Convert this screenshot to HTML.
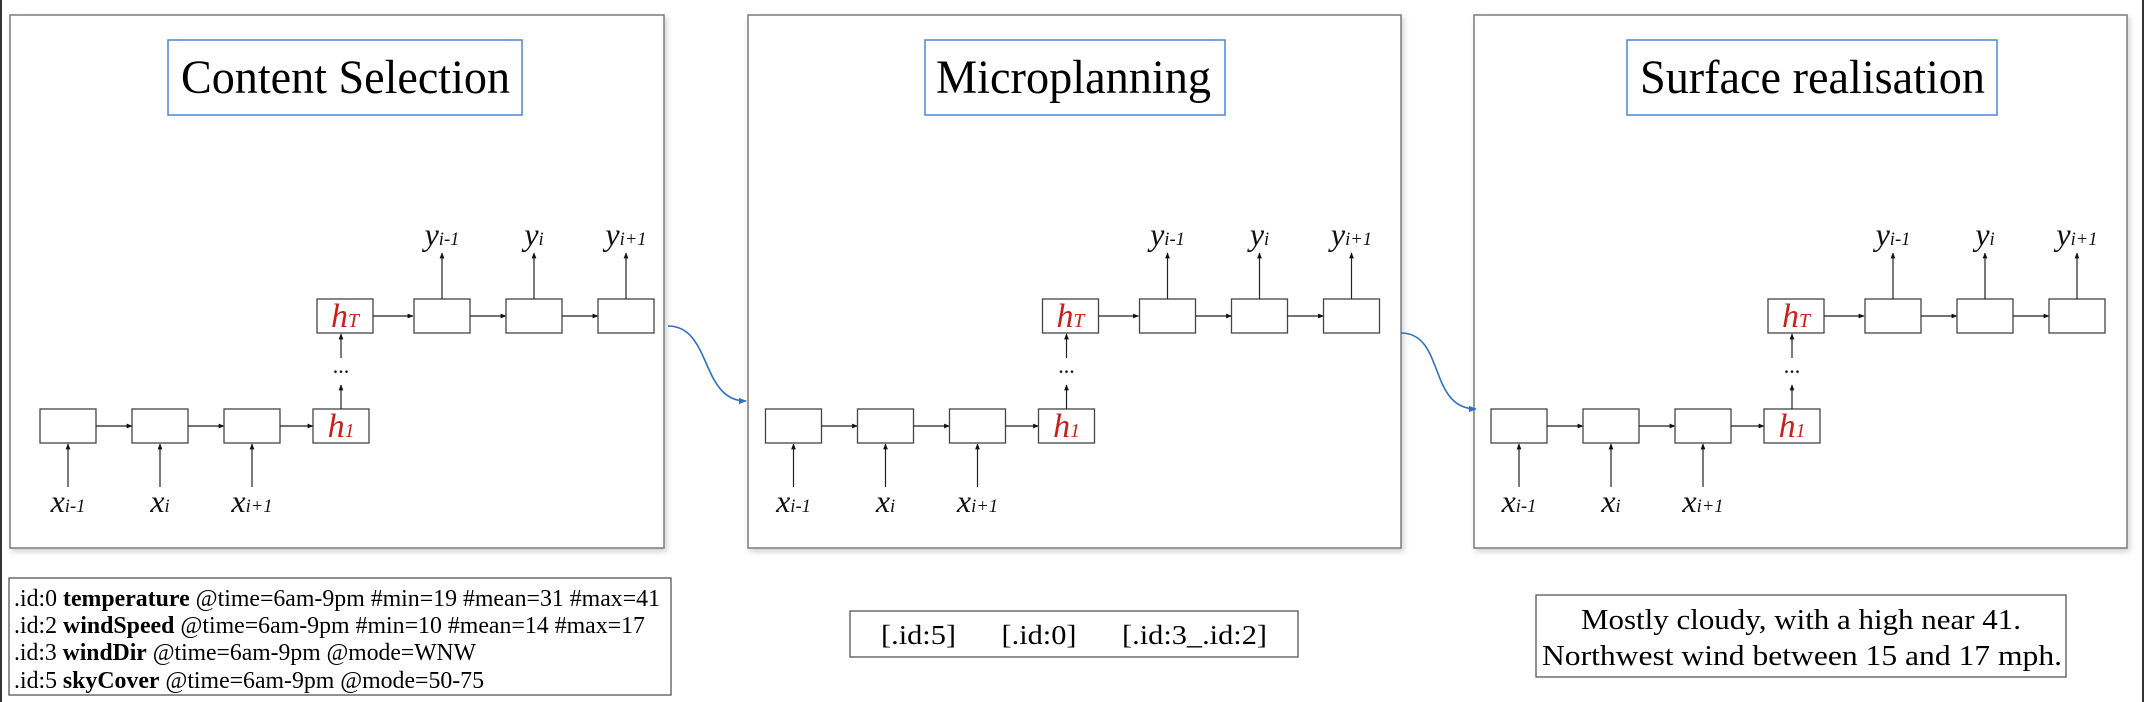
<!DOCTYPE html>
<html><head><meta charset="utf-8"><style>
html,body{margin:0;padding:0;background:#fff}
svg{display:block}
svg, svg text, svg tspan{font-family:"Liberation Serif","DejaVu Serif",serif}
</style></head><body>
<svg id="fig" width="2144" height="702" viewBox="0 0 2144 702" xmlns="http://www.w3.org/2000/svg" font-family="Liberation Serif, DejaVu Serif, serif">
<defs>
<marker id="ah" viewBox="0 0 10 10" refX="9" refY="5" markerWidth="5" markerHeight="5" orient="auto"><path d="M0,1 L10,5 L0,9 z" fill="#111"/></marker>
<marker id="bh" viewBox="0 0 10 10" refX="9" refY="5" markerWidth="5" markerHeight="5" orient="auto"><path d="M0,1 L10,5 L0,9 z" fill="#2f6fc4"/></marker>
<filter id="sh" x="-5%" y="-5%" width="110%" height="110%"><feDropShadow dx="2" dy="3" stdDeviation="3" flood-color="#000" flood-opacity="0.18"/></filter>
</defs>
<rect x="0" y="0" width="2" height="702" fill="#333"/>
<rect x="2142" y="0" width="2" height="702" fill="#333"/>
<g id="panels"></g>
<path d="M668,326 C712,326 700,401 746,401" fill="none" stroke="#2f6fc4" stroke-width="1.6" marker-end="url(#bh)"/>
<path d="M1401,333 C1445,333 1428,409 1476,409" fill="none" stroke="#2f6fc4" stroke-width="1.6" marker-end="url(#bh)"/>

<g>
<rect x="9" y="578" width="662" height="117" fill="#fff" stroke="#555" stroke-width="1.3"/>
<text x="14" y="606" font-size="24" textLength="646" lengthAdjust="spacingAndGlyphs">.id:0 <tspan font-weight="bold">temperature</tspan> @time=6am-9pm #min=19 #mean=31 #max=41</text>
<text x="14" y="633" font-size="24" textLength="631" lengthAdjust="spacingAndGlyphs">.id:2 <tspan font-weight="bold">windSpeed</tspan> @time=6am-9pm #min=10 #mean=14 #max=17</text>
<text x="14" y="660" font-size="24" textLength="462" lengthAdjust="spacingAndGlyphs">.id:3 <tspan font-weight="bold">windDir</tspan> @time=6am-9pm @mode=WNW</text>
<text x="14" y="688" font-size="24" textLength="470" lengthAdjust="spacingAndGlyphs">.id:5 <tspan font-weight="bold">skyCover</tspan> @time=6am-9pm @mode=50-75</text>
</g>
<g>
<rect x="850" y="611" width="448" height="46" fill="#fff" stroke="#555" stroke-width="1.3"/>
<text x="881" y="644" font-size="27" textLength="386" lengthAdjust="spacingAndGlyphs" xml:space="preserve">[.id:5]      [.id:0]      [.id:3_.id:2]</text>
</g>
<g>
<rect x="1536" y="595" width="530" height="82" fill="#fff" stroke="#555" stroke-width="1.3"/>
<text x="1801" y="629" font-size="28" text-anchor="middle" textLength="440" lengthAdjust="spacingAndGlyphs">Mostly cloudy, with a high near 41.</text>
<text x="1802" y="665" font-size="28" text-anchor="middle" textLength="520" lengthAdjust="spacingAndGlyphs">Northwest wind between 15 and 17 mph.</text>
</g>
</svg>
<script>
const NS = "http://www.w3.org/2000/svg";
const panelTitles = ["Content Selection", "Microplanning", "Surface realisation"];
const panelFrames = [[10,664],[748,1401],[1474,2127]];
const contentOffsets = [0, 725.5, 1451];
const titleBoxes = [[168,522,181,329],[925,1225,936,275],[1627,1997,1640,345]];
const lowerBoxX = [40,132,224];
const upperBoxX = [414,506,598];
const xSubs = ["i-1","i","i+1"];
const g = document.getElementById("panels");
function mk(tag, attrs, parent){
  const e = document.createElementNS(NS, tag);
  for (const k in attrs) e.setAttribute(k, attrs[k]);
  (parent||g).appendChild(e);
  return e;
}
function label(base, sub, x, y, size, color, parent, name){
  const t = mk("text", {x:x, y:y, "font-size":size, "font-style":"italic", "text-anchor":"middle", fill:color}, parent);
  
  
  const a = document.createElementNS(NS,"tspan"); a.textContent = base; t.appendChild(a);
  const b = document.createElementNS(NS,"tspan"); b.setAttribute("font-size", size*0.58); b.textContent = sub; t.appendChild(b);
}
panelTitles.forEach((title, p) => {
  const pg = mk("g", {});
  
  
  const [l, r] = panelFrames[p];
  const frame = mk("rect", {x:l, y:15, width:r-l, height:533, fill:"#fff", stroke:"#7a7a7a", "stroke-width":1.5, filter:"url(#sh)"}, pg);
  
  
  const [tl, tr, tx, tw] = titleBoxes[p];
  const tb = mk("rect", {x:tl, y:40, width:tr-tl, height:75, fill:"#fff", stroke:"#4a86d4", "stroke-width":1.5}, pg);
  
  
  const tt = mk("text", {x:tx, y:93, "font-size":48, textLength:tw, lengthAdjust:"spacingAndGlyphs", fill:"#000"}, pg);
  tt.textContent = title;
  
  
  const o = contentOffsets[p];
  const bx = (x,y,w,h,name) => { const b = mk("rect",{x:x+o,y:y,width:w,height:h,fill:"#fff",stroke:"#444","stroke-width":1.3},pg);   };
  const ln = (x1,y1,x2,y2,name) => { const a = mk("line",{x1:x1+o,y1:y1,x2:x2+o,y2:y2,stroke:"#222","stroke-width":1.2,"marker-end":"url(#ah)"},pg);   };
  lowerBoxX.forEach((x,i) => {
    bx(x,409,56,34,'encoder-cell');
    ln(x+28,487,x+28,444,'input-arrow');
    label("x", xSubs[i], x+28+o, 512, 32, "#111", pg, 'input-label');
    const nx = i<2 ? lowerBoxX[i+1] : 313;
    ln(x+56,426,nx,426,'encoder-arrow');
  });
  bx(313,409,56,34,'h1-cell');
  label("h","1",341+o,437,34,"#c8201c",pg,'h1-label');
  ln(341,409,341,385,'up-arrow');
  const d = mk("text",{x:341+o,y:373,"font-size":22,"text-anchor":"middle",fill:"#111"},pg);
  d.textContent = "...";
  
  
  ln(341,358,341,334,'up-arrow');
  bx(317,299,56,34,'hT-cell');
  label("h","T",345+o,327,34,"#c8201c",pg,'hT-label');
  ln(373,316,413,316,'decoder-arrow');
  upperBoxX.forEach((x,i) => {
    bx(x,299,56,34,'decoder-cell');
    ln(x+28,299,x+28,253,'output-arrow');
    label("y", xSubs[i], x+28+o, 245, 32, "#111", pg, 'output-label');
    if (i<2) ln(x+56,316,upperBoxX[i+1],316,'decoder-arrow');
  });
});
</script>
</body></html>
